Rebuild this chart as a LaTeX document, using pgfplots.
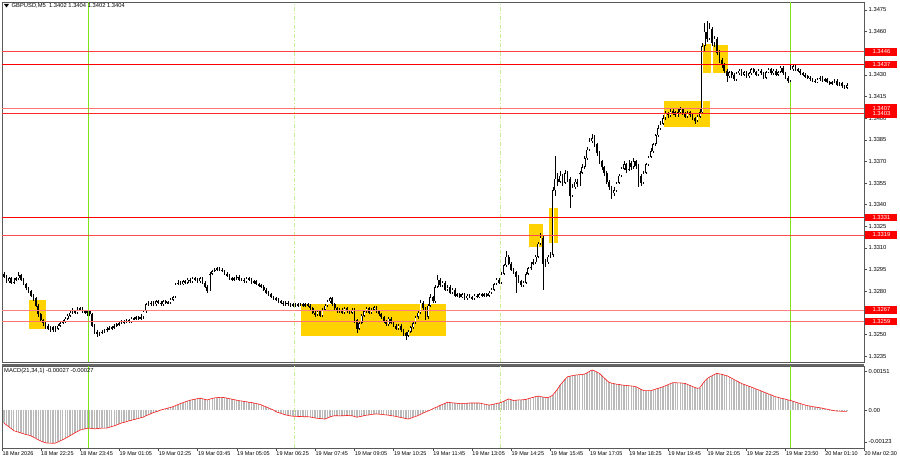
\documentclass[border=0pt]{standalone}
\usepackage{fontspec}
\setmainfont{Liberation Sans}
\usepackage{pgfplots}
\pgfplotsset{compat=1.18}
\usepackage{pgfplotstable}
\definecolor{hl}{RGB}{255,210,0}
\definecolor{vg}{RGB}{124,230,20}
\definecolor{vgl}{RGB}{195,240,150}
\definecolor{histc}{RGB}{185,185,185}
% prices in pips above 1.3000 (e.g. 402 = 1.3402); m = MACD in 1e-5
\pgfplotstableread{
o h l c m
292 293 289 290 -50
290 291 286 287 -58
287 290 286 289 -65
289 290 285 286 -72
286 289 285 288 -80
288 290 287 289 -83
289 293 288 291 -86
291 292 287 288 -89
288 289 284 285 -92
285 286 281 282 -95
282 283 279 280 -97
280 281 276 277 -100
277 278 273 275 -105
275 276 269 270 -110
270 271 262 264 -115
264 265 259 260 -120
260 261 256 258 -124
258 259 254 256 -127
256 257 253 254 -128
254 256 252 255 -128
255 256 252 253 -129
253 256 252 254 -128
254 257 253 256 -124
256 259 255 258 -119
258 260 257 259 -115
259 262 258 261 -110
261 264 260 263 -105
263 266 262 265 -99
265 268 264 266 -94
266 267 264 265 -88
265 269 264 267 -83
267 269 266 268 -78
268 269 265 266 -75
266 267 264 265 -73
265 267 263 266 -71
266 267 263 264 -70
264 265 255 256 -72
256 257 250 252 -73
252 253 248 250 -72
250 252 249 251 -71
251 253 250 252 -70
252 254 251 253 -70
253 255 252 254 -70
254 256 253 254 -67
254 256 253 255 -64
255 257 254 256 -61
256 258 255 257 -58
257 259 256 258 -54
258 260 257 258 -50
258 260 257 259 -48
259 261 258 260 -45
260 261 258 259 -42
259 262 258 261 -40
261 262 260 261 -37
261 263 260 262 -35
262 263 260 261 -32
261 264 260 262 -30
262 267 261 266 -27
266 272 265 271 -22
271 273 270 271 -18
271 273 270 272 -14
272 273 270 271 -10
271 274 270 273 -7
273 274 271 272 -4
272 273 270 271 0
271 274 270 273 3
273 274 271 272 5
272 273 271 272 8
272 275 271 274 10
274 277 273 276 13
276 286 275 285 17
285 288 284 286 21
286 287 284 285 25
285 288 284 287 28
287 288 285 286 32
286 289 285 288 35
288 289 286 287 38
287 290 286 289 40
289 290 287 288 42
288 289 286 287 44
287 290 286 289 46
289 290 285 286 44
286 287 282 283 41
283 284 279 280 39
280 293 280 292 42
292 295 291 294 45
294 296 293 295 47
295 297 294 296 48
296 297 294 295 49
295 296 293 294 49
294 295 291 292 48
292 293 290 291 46
291 292 288 289 44
289 290 287 288 42
288 290 287 289 40
289 291 288 290 38
290 291 287 288 36
288 289 287 288 35
288 289 286 287 33
287 290 286 289 32
289 290 287 288 30
288 289 285 286 29
286 288 285 287 27
287 288 284 285 25
285 286 283 284 23
284 285 282 283 20
283 284 280 281 16
281 282 278 279 12
279 280 277 278 8
278 279 275 276 4
276 277 274 275 0
275 276 273 274 -7
274 275 272 273 -10
273 274 271 272 -13
272 273 270 271 -16
271 273 270 272 -19
272 273 270 271 -21
271 272 269 270 -23
270 272 269 271 -24
271 272 269 270 -24
270 272 269 271 -25
271 272 270 271 -25
271 272 269 270 -26
270 272 269 271 -26
271 272 269 270 -26
270 271 267 268 -27
268 269 264 265 -29
265 266 262 264 -31
264 267 263 266 -32
266 267 262 263 -33
263 268 262 267 -34
267 271 266 270 -35
270 274 269 273 -31
273 276 272 275 -27
275 276 270 271 -24
271 272 267 268 -22
268 269 265 266 -22
266 268 265 267 -23
267 268 264 265 -22
265 269 264 268 -22
268 269 265 266 -21
266 267 264 265 -22
265 268 264 267 -22
267 268 258 260 -25
260 261 251 254 -28
254 259 253 258 -26
258 264 257 263 -24
263 267 262 266 -22
266 269 265 268 -20
268 269 264 265 -19
265 268 264 267 -17
267 270 266 269 -16
269 270 265 266 -15
266 267 263 264 -16
264 265 261 262 -17
262 263 258 259 -18
259 260 256 257 -19
257 262 256 261 -20
261 262 257 258 -22
258 259 255 256 -23
256 257 253 254 -25
254 257 253 256 -27
256 257 252 253 -29
253 254 249 251 -31
251 252 246 249 -33
249 253 248 252 -35
252 256 251 255 -32
255 259 254 258 -28
258 263 257 262 -25
262 266 261 265 -21
265 274 264 272 -17
272 273 267 268 -12
268 269 260 262 -8
262 271 261 270 -4
270 278 269 276 0
276 277 272 273 5
273 284 272 283 9
283 291 282 288 13
288 289 283 284 18
284 287 283 286 22
286 287 280 281 26
281 284 280 283 30
283 284 278 279 29
279 282 278 281 28
281 282 276 277 27
277 279 276 278 26
278 279 275 276 25
276 279 275 278 25
278 279 274 275 26
275 278 274 277 26
277 278 275 276 27
276 277 274 275 27
275 278 274 277 27
277 278 275 276 27
276 279 275 278 27
278 279 276 277 25
277 279 276 278 23
278 279 276 277 21
277 280 276 279 19
279 282 278 281 21
281 286 280 285 23
285 289 284 288 25
288 289 285 286 27
286 293 285 292 30
292 299 291 298 34
298 308 297 304 39
304 305 298 299 43
299 300 294 295 40
295 296 292 293 37
293 294 279 290 38
290 291 286 287 39
287 288 283 284 39
284 287 283 286 40
286 293 285 292 41
292 297 291 296 44
296 300 295 299 47
299 302 298 300 49
300 305 299 304 52
304 314 303 313 54
313 320 312 317 52
317 318 281 299 50
299 302 297 300 49
300 305 299 304 48
304 307 303 305 52
305 352 304 350 58
350 374 346 358 70
358 362 353 356 82
356 363 355 360 97
360 361 353 355 108
355 364 354 362 119
362 363 356 358 129
358 359 338 346 131
346 354 345 352 133
352 358 351 356 135
356 358 352 354 136
354 363 353 362 137
362 368 361 366 138
366 374 365 372 139
372 380 371 378 144
378 386 377 384 150
384 389 383 386 155
386 388 380 382 152
382 383 374 376 147
376 377 368 370 142
370 371 364 366 133
366 367 360 362 124
362 363 354 356 115
356 357 350 352 107
352 353 344 348 104
348 352 346 350 102
350 356 349 355 100
355 361 354 360 99
360 366 359 365 97
365 370 364 368 96
368 369 362 364 95
364 371 363 369 94
369 370 364 366 93
366 372 365 370 92
370 371 365 367 90
367 368 352 360 85
360 361 353 355 80
355 363 354 362 75
362 369 361 368 75
368 374 367 373 75
373 379 372 377 75
377 383 376 382 78
382 389 381 388 81
388 395 387 393 84
393 398 392 396 87
396 402 395 400 90
400 405 399 403 94
403 404 400 402 98
402 407 401 405 102
405 406 402 404 106
404 405 401 402 106
402 406 401 404 105
404 408 403 406 105
406 407 402 403 104
403 404 400 401 103
401 405 400 404 99
404 405 401 402 95
402 403 399 400 91
400 401 396 398 87
398 402 397 401 84
401 406 400 404 86
404 452 403 450 100
450 466 446 460 112
460 467 453 455 122
455 466 454 462 128
462 463 450 452 133
452 457 449 455 138
455 456 444 445 142
445 447 438 440 140
440 442 435 437 138
437 438 431 433 135
433 434 425 429 133
429 433 428 432 128
432 433 428 430 123
430 431 426 427 118
427 432 426 431 113
431 434 430 433 108
433 434 429 430 103
430 433 429 432 99
432 433 428 429 96
429 432 428 431 92
431 435 430 434 89
434 435 431 432 85
432 433 429 430 81
430 434 429 433 78
433 434 430 431 74
431 432 427 428 70
428 433 427 432 66
432 435 431 434 62
434 435 430 431 59
431 434 430 433 55
433 434 429 430 51
430 433 429 432 49
432 436 431 435 46
435 436 430 431 44
431 432 427 428 42
428 429 424 426 39
426 437 425 434 37
434 437 433 436 34
436 437 433 434 31
434 435 432 433 28
433 434 430 431 25
431 432 429 430 22
430 431 428 429 19
429 430 427 428 17
428 429 426 427 15
427 428 425 426 13
426 427 424 425 12
425 428 424 427 10
427 429 426 428 9
428 429 425 426 7
426 428 425 427 5
427 428 424 425 3
425 426 423 424 1
424 426 423 425 -1
425 427 424 426 -3
426 427 422 423 -4
423 425 422 424 -4
424 425 421 422 -5
422 423 420 421 -5
421 424 420 423 -5
}\candles

\newcommand{\tf}{\fontsize{5.8}{6.5}\selectfont}

\begin{document}
\begin{tikzpicture}
\useasboundingbox (0pt,0pt) rectangle (900pt,460pt);
% ---------------- price panel ----------------
\begin{axis}[
  at={(2pt,98pt)}, anchor=south west,
  scale only axis, width=862pt, height=360pt,
  xmin=-0.8, xmax=351, ymin=230.9, ymax=480.5,
  xtick=\empty,
  ytick={235,250,265,280,295,310,325,340,355,370,385,400,415,430,445,460,475},
  yticklabels={1.3235,1.3250,{},1.3280,1.3295,1.3310,1.3325,1.3340,1.3355,1.3370,1.3385,1.3400,1.3415,1.3430,{},1.3460,1.3475},
  ytick pos=right, yticklabel pos=right,
  tick align=outside, major tick length=3pt,
  tick style={black!70, line width=0.4pt},
  yticklabel style={font=\tf, inner sep=1pt, xshift=0.5pt},
  axis line style={black!65, line width=0.7pt},
  clip=false,
]
% highlight rectangles
\fill[hl] (axis cs:10.3,254) rectangle (axis cs:17.0,274);
\fill[hl] (axis cs:121.1,249.1) rectangle (axis cs:180.3,271.1);
\fill[hl] (axis cs:214.3,310.8) rectangle (axis cs:220.1,326.4);
\fill[hl] (axis cs:222.4,313.2) rectangle (axis cs:226.2,337.5);
\fill[hl] (axis cs:269.4,393.8) rectangle (axis cs:288.2,411.9);
\fill[hl] (axis cs:285.2,431.0) rectangle (axis cs:288.6,451.2);
\fill[hl] (axis cs:289.2,431.0) rectangle (axis cs:295.4,450.7);
% vertical separators
\draw[vg, line width=0.7pt] (axis cs:34.3,230.9) -- (axis cs:34.3,480.5);
\draw[vg, line width=0.7pt] (axis cs:320.8,230.9) -- (axis cs:320.8,480.5);
\draw[vgl, line width=0.7pt, dash pattern=on 4pt off 2pt on 1pt off 2pt] (axis cs:118.4,230.9) -- (axis cs:118.4,480.5);
\draw[vgl, line width=0.7pt, dash pattern=on 4pt off 2pt on 1pt off 2pt] (axis cs:202.4,230.9) -- (axis cs:202.4,480.5);
% wicks
\addplot[draw=none, forget plot,
  error bars/.cd, y dir=both, y explicit, error mark=none,
  error bar style={draw=black, line width=0.5pt}]
  table[x expr=\coordindex, y expr={(\thisrow{h}+\thisrow{l})/2}, y error expr={(\thisrow{h}-\thisrow{l})/2}] \candles;
% bull bodies: black outline ...
\addplot[draw=none, forget plot,
  restrict expr to domain={\thisrow{c}-\thisrow{o}}{0:1000},
  error bars/.cd, y dir=both, y explicit, error mark=none,
  error bar style={draw=black, line width=1.7pt}]
  table[x expr=\coordindex, y expr={(\thisrow{o}+\thisrow{c})/2}, y error expr={max(abs(\thisrow{c}-\thisrow{o})/2,0.35)}] \candles;
% ... with a white inside
\addplot[draw=none, forget plot,
  restrict expr to domain={\thisrow{c}-\thisrow{o}}{1.5:1000},
  error bars/.cd, y dir=both, y explicit, error mark=none,
  error bar style={draw=white, line width=0.6pt}]
  table[x expr=\coordindex, y expr={(\thisrow{o}+\thisrow{c})/2}, y error expr={abs(\thisrow{c}-\thisrow{o})/2-0.45}] \candles;
% bear bodies
\addplot[draw=none, forget plot,
  restrict expr to domain={\thisrow{c}-\thisrow{o}}{-1000:-0.5},
  error bars/.cd, y dir=both, y explicit, error mark=none,
  error bar style={draw=black, line width=1.7pt}]
  table[x expr=\coordindex, y expr={(\thisrow{o}+\thisrow{c})/2}, y error expr={abs(\thisrow{c}-\thisrow{o})/2}] \candles;
% horizontal levels
\draw[red!75, line width=0.6pt] (axis cs:-0.8,446) -- (axis cs:351,446);
\draw[red, line width=1.2pt] (axis cs:-0.8,437) -- (axis cs:351,437);
\draw[red!55, line width=0.6pt] (axis cs:-0.8,407) -- (axis cs:351,407);
\draw[red!85, line width=0.8pt] (axis cs:-0.8,403) -- (axis cs:351,403);
\draw[red, line width=1.2pt] (axis cs:-0.8,331) -- (axis cs:351,331);
\draw[red!70, line width=0.7pt] (axis cs:-0.8,319) -- (axis cs:351,319);
\draw[red!50, line width=0.7pt] (axis cs:-0.8,267) -- (axis cs:351,267);
\draw[red!55, line width=0.7pt] (axis cs:-0.8,259) -- (axis cs:351,259);
\coordinate (L446) at (axis cs:351,446);
\coordinate (L437) at (axis cs:351,437);
\coordinate (L407) at (axis cs:351,407);
\coordinate (L403) at (axis cs:351,403);
\coordinate (L331) at (axis cs:351,331);
\coordinate (L319) at (axis cs:351,319);
\coordinate (L267) at (axis cs:351,267);
\coordinate (L259) at (axis cs:351,259);
\end{axis}
% price tags
\foreach \c/\t in {L446/1.3446,L437/1.3437,L407/1.3407,L403/1.3403,L331/1.3331,L319/1.3319,L267/1.3267,L259/1.3259}{
  \node[fill=red, text=white, font=\tf, anchor=west, inner sep=0pt, minimum width=32pt, minimum height=7.5pt, xshift=1.2pt] at (\c) {\t};
}
% title
\fill[black] (4pt,456pt) -- (9pt,456pt) -- (6.5pt,452.5pt) -- cycle;
\node[anchor=west, font=\tf, inner sep=0pt] at (11.5pt,454.3pt) {GBPUSD,M5\ \ 1.3402 1.3404 1.3402 1.3404};
% ---------------- MACD panel ----------------
\begin{axis}[
  at={(2pt,12pt)}, anchor=south west,
  scale only axis, width=862pt, height=82pt,
  xmin=-0.8, xmax=351, ymin=-147, ymax=170.4,
  ytick={-123,0,151}, yticklabels={-0.00123,0.00,0.00151},
  xtick={-0.8,15,31,47,63,79,95,111,127,143,159,175,191,207,223,239,255,271,287,303,319,335,351},
  xticklabels={18 Mar 2026,18 Mar 22:25,18 Mar 23:45,19 Mar 01:05,19 Mar 02:25,19 Mar 03:45,19 Mar 05:05,19 Mar 06:25,19 Mar 07:45,19 Mar 09:05,19 Mar 10:25,19 Mar 11:45,19 Mar 13:05,19 Mar 14:25,19 Mar 15:45,19 Mar 17:05,19 Mar 18:25,19 Mar 19:45,19 Mar 21:05,19 Mar 22:25,19 Mar 23:50,20 Mar 01:10,20 Mar 02:30},
  ytick pos=right, yticklabel pos=right, xtick pos=bottom,
  tick align=outside, major tick length=3pt,
  tick style={black!70, line width=0.4pt},
  yticklabel style={font=\tf, inner sep=1pt, xshift=0.5pt},
  xticklabel style={font=\fontsize{5.5}{6}\selectfont, anchor=north west, inner sep=0pt, xshift=0.3pt, yshift=-0.5pt},
  axis line style={black!65, line width=0.7pt},
  clip=false,
]
\draw[vg, line width=0.7pt] (axis cs:34.3,-147) -- (axis cs:34.3,170.4);
\draw[vg, line width=0.7pt] (axis cs:320.8,-147) -- (axis cs:320.8,170.4);
\draw[vgl, line width=0.7pt, dash pattern=on 4pt off 2pt on 1pt off 2pt] (axis cs:118.4,-147) -- (axis cs:118.4,170.4);
\draw[vgl, line width=0.7pt, dash pattern=on 4pt off 2pt on 1pt off 2pt] (axis cs:202.4,-147) -- (axis cs:202.4,170.4);
\addplot[ycomb, draw=histc, line width=1.4pt, mark=none, forget plot] table[x expr=\coordindex, y=m] \candles;
\addplot[red!90, line width=0.6pt, mark=none, forget plot] table[x expr=\coordindex, y=m] \candles;
\end{axis}
\draw[black!60, line width=1.2pt] (2pt,95pt) -- (864pt,95pt);
\node[anchor=west, font=\tf, inner sep=0pt] at (4pt,88.5pt) {MACD(21,34,1) -0.00027 -0.00027};
\end{tikzpicture}
\end{document}
